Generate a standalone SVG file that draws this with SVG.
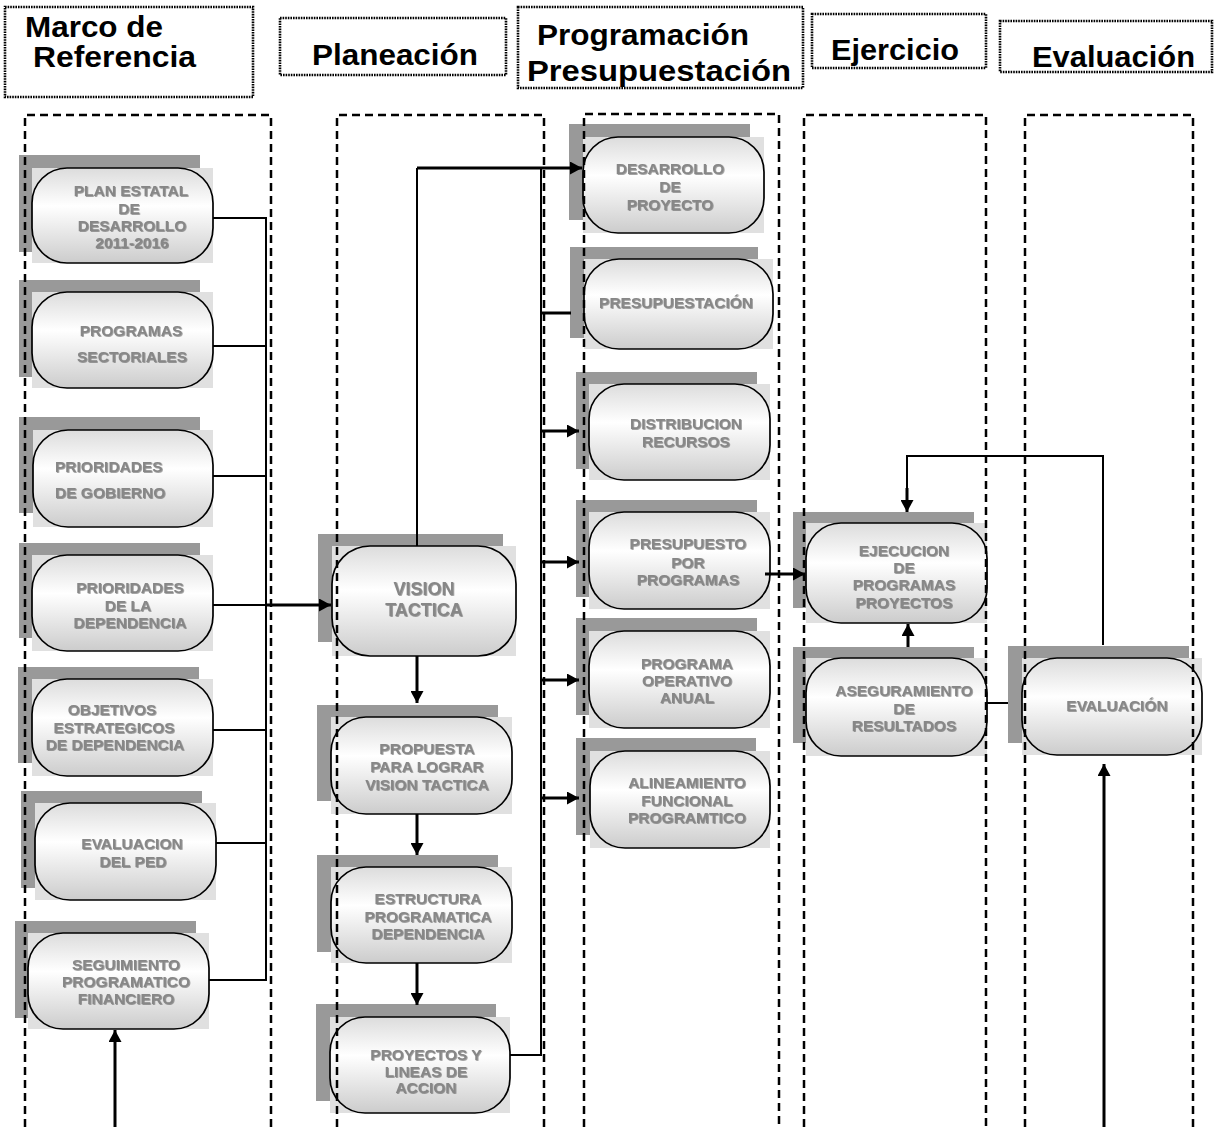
<svg xmlns="http://www.w3.org/2000/svg" width="1215" height="1127" viewBox="0 0 1215 1127">
<style>
.hdr{fill:none;stroke:#000;stroke-width:2.6;stroke-dasharray:1.6 1}
.col{fill:none;stroke:#000;stroke-width:2.5;stroke-dasharray:8 5}
.title{font-family:"Liberation Sans",Arial,sans-serif;font-weight:bold;font-size:29px;fill:#000}
.sh{fill:#999}
.bg{fill:#e0e0e0}
.pill{fill:url(#pg);stroke:#000;stroke-width:1.7}
.t{font-family:"Liberation Sans",Arial,sans-serif;font-weight:bold;font-size:15.5px;fill:#878787;text-anchor:middle;filter:url(#ts)}
.tl{text-anchor:start}
.big{font-size:18px}
.ln{fill:none;stroke:#000;stroke-width:2}
.th{fill:none;stroke:#000;stroke-width:3}
</style>
<defs>
<linearGradient id="pg" x1="0" y1="0" x2="0" y2="1">
<stop offset="0" stop-color="#dcdcdc"/>
<stop offset="0.4" stop-color="#ffffff"/>
<stop offset="1" stop-color="#cccccc"/>
</linearGradient>
<filter id="ts" x="-10%" y="-30%" width="120%" height="160%">
<feDropShadow dx="0.8" dy="0.8" stdDeviation="0.6" flood-color="#333" flood-opacity="0.55"/>
</filter>
<marker id="ah" markerUnits="userSpaceOnUse" markerWidth="13" markerHeight="13" refX="12" refY="6.5" orient="auto">
<path d="M0,0 L12,6.5 L0,13 z" fill="#000"/>
</marker>
</defs>
<rect width="1215" height="1127" fill="#fff"/>

<g id="headers">
<g id="h-marco"><rect class="hdr" x="5" y="7" width="248" height="90"/><text class="title" x="25" y="37" textLength="138" lengthAdjust="spacingAndGlyphs">Marco de</text><text class="title" x="33" y="67" textLength="163" lengthAdjust="spacingAndGlyphs">Referencia</text></g>
<g id="h-plan"><rect class="hdr" x="280" y="18" width="226" height="57"/><text class="title" x="312" y="65" textLength="166" lengthAdjust="spacingAndGlyphs">Planeación</text></g>
<g id="h-prog"><rect class="hdr" x="518" y="7" width="285" height="81"/><text class="title" x="537" y="45" textLength="212" lengthAdjust="spacingAndGlyphs">Programación</text><text class="title" x="527" y="81" textLength="264" lengthAdjust="spacingAndGlyphs">Presupuestación</text></g>
<g id="h-ejer"><rect class="hdr" x="812" y="14" width="174" height="54"/><text class="title" x="831" y="60" textLength="128" lengthAdjust="spacingAndGlyphs">Ejercicio</text></g>
<g id="h-eval"><rect class="hdr" x="1000" y="21" width="212" height="51"/><text class="title" x="1032" y="67" textLength="163" lengthAdjust="spacingAndGlyphs">Evaluación</text></g>
</g>

<g id="n-plan"><rect class="sh" x="19" y="155" width="181" height="97"/><rect class="bg" x="32" y="168" width="181" height="95"/><rect class="pill" x="32" y="168" width="181" height="95" rx="35"/><text class="t" x="131" y="196">PLAN ESTATAL</text><text class="t" x="129" y="214">DE</text><text class="t" x="132" y="231">DESARROLLO</text><text class="t" x="132" y="248">2011-2016</text></g>
<g id="n-sect"><rect class="sh" x="19" y="280" width="181" height="97"/><rect class="bg" x="32" y="292" width="181" height="96"/><rect class="pill" x="32" y="292" width="181" height="96" rx="35"/><text class="t" x="131" y="336">PROGRAMAS</text><text class="t" x="132" y="362">SECTORIALES</text></g>
<g id="n-prgob"><rect class="sh" x="19" y="417" width="181" height="96"/><rect class="bg" x="33" y="430" width="180" height="97"/><rect class="pill" x="33" y="430" width="180" height="97" rx="35"/><text class="t tl" x="55" y="472">PRIORIDADES</text><text class="t tl" x="55" y="498">DE GOBIERNO</text></g>
<g id="n-prdep"><rect class="sh" x="19" y="543" width="181" height="95"/><rect class="bg" x="32" y="555" width="181" height="96"/><rect class="pill" x="32" y="555" width="181" height="96" rx="35"/><text class="t" x="130" y="593">PRIORIDADES</text><text class="t" x="128" y="611">DE LA</text><text class="t" x="130" y="628">DEPENDENCIA</text></g>
<g id="n-obj"><rect class="sh" x="18" y="667" width="181" height="96"/><rect class="bg" x="32" y="679" width="181" height="97"/><rect class="pill" x="32" y="679" width="181" height="97" rx="35"/><text class="t" x="112" y="715">OBJETIVOS</text><text class="t" x="114" y="733">ESTRATEGICOS</text><text class="t" x="115" y="750">DE DEPENDENCIA</text></g>
<g id="n-evped"><rect class="sh" x="21" y="791" width="181" height="97"/><rect class="bg" x="35" y="803" width="181" height="97"/><rect class="pill" x="35" y="803" width="181" height="97" rx="35"/><text class="t" x="132" y="849">EVALUACION</text><text class="t" x="133" y="867">DEL PED</text></g>
<g id="n-seg"><rect class="sh" x="15" y="921" width="181" height="97"/><rect class="bg" x="28" y="933" width="181" height="96"/><rect class="pill" x="28" y="933" width="181" height="96" rx="35"/><text class="t" x="126" y="970">SEGUIMIENTO</text><text class="t" x="126" y="987">PROGRAMATICO</text><text class="t" x="126" y="1004">FINANCIERO</text></g>

<g id="n-vision"><rect class="sh" x="318" y="534" width="185" height="108"/><rect class="bg" x="332" y="546" width="184" height="110"/><rect class="pill" x="332" y="546" width="184" height="110" rx="38"/><text class="t big" x="424" y="595">VISION</text><text class="t big" x="424" y="616">TACTICA</text></g>
<g id="n-prop"><rect class="sh" x="317" y="705" width="181" height="96"/><rect class="bg" x="331" y="717" width="181" height="97"/><rect class="pill" x="331" y="717" width="181" height="97" rx="35"/><text class="t" x="427" y="754">PROPUESTA</text><text class="t" x="427" y="772">PARA LOGRAR</text><text class="t" x="427" y="790">VISION TACTICA</text></g>
<g id="n-estr"><rect class="sh" x="317" y="855" width="181" height="97"/><rect class="bg" x="331" y="867" width="181" height="96"/><rect class="pill" x="331" y="867" width="181" height="96" rx="35"/><text class="t" x="428" y="904">ESTRUCTURA</text><text class="t" x="428" y="922">PROGRAMATICA</text><text class="t" x="428" y="939">DEPENDENCIA</text></g>
<g id="n-proy"><rect class="sh" x="316" y="1004" width="180" height="97"/><rect class="bg" x="330" y="1017" width="180" height="96"/><rect class="pill" x="330" y="1017" width="180" height="96" rx="35"/><text class="t" x="426" y="1060">PROYECTOS Y</text><text class="t" x="426" y="1077">LINEAS DE</text><text class="t" x="426" y="1093">ACCION</text></g>

<g id="n-desa"><rect class="sh" x="569" y="124" width="181" height="96"/><rect class="bg" x="583" y="137" width="181" height="96"/><rect class="pill" x="583" y="137" width="181" height="96" rx="35"/><text class="t" x="670" y="174">DESARROLLO</text><text class="t" x="670" y="192">DE</text><text class="t" x="670" y="210">PROYECTO</text></g>
<g id="n-presup"><rect class="sh" x="570" y="247" width="188" height="91"/><rect class="bg" x="584" y="259" width="189" height="90"/><rect class="pill" x="584" y="259" width="189" height="90" rx="35"/><text class="t" x="676" y="308">PRESUPUESTACIÓN</text></g>
<g id="n-dist"><rect class="sh" x="576" y="372" width="181" height="97"/><rect class="bg" x="589" y="384" width="181" height="96"/><rect class="pill" x="589" y="384" width="181" height="96" rx="35"/><text class="t" x="686" y="429">DISTRIBUCION</text><text class="t" x="686" y="447">RECURSOS</text></g>
<g id="n-ppp"><rect class="sh" x="576" y="500" width="181" height="97"/><rect class="bg" x="589" y="512" width="181" height="97"/><rect class="pill" x="589" y="512" width="181" height="97" rx="35"/><text class="t" x="688" y="549">PRESUPUESTO</text><text class="t" x="688" y="568">POR</text><text class="t" x="688" y="585">PROGRAMAS</text></g>
<g id="n-poa"><rect class="sh" x="576" y="618" width="181" height="97"/><rect class="bg" x="589" y="631" width="181" height="97"/><rect class="pill" x="589" y="631" width="181" height="97" rx="35"/><text class="t" x="687" y="669">PROGRAMA</text><text class="t" x="687" y="686">OPERATIVO</text><text class="t" x="687" y="703">ANUAL</text></g>
<g id="n-alin"><rect class="sh" x="576" y="738" width="180" height="97"/><rect class="bg" x="590" y="751" width="180" height="97"/><rect class="pill" x="590" y="751" width="180" height="97" rx="35"/><text class="t" x="687" y="788">ALINEAMIENTO</text><text class="t" x="687" y="806">FUNCIONAL</text><text class="t" x="687" y="823">PROGRAMTICO</text></g>

<g id="n-ejec"><rect class="sh" x="793" y="512" width="181" height="96"/><rect class="bg" x="806" y="523" width="181" height="100"/><rect class="pill" x="806" y="523" width="181" height="100" rx="35"/><text class="t" x="904" y="556">EJECUCION</text><text class="t" x="904" y="573">DE</text><text class="t" x="904" y="590">PROGRAMAS</text><text class="t" x="904" y="608">PROYECTOS</text></g>
<g id="n-aseg"><rect class="sh" x="793" y="647" width="181" height="96"/><rect class="bg" x="806" y="658" width="181" height="98"/><rect class="pill" x="806" y="658" width="181" height="98" rx="35"/><text class="t" x="904" y="696">ASEGURAMIENTO</text><text class="t" x="904" y="714">DE</text><text class="t" x="904" y="731">RESULTADOS</text></g>

<g id="n-eval"><rect class="sh" x="1008" y="646" width="181" height="97"/><rect class="bg" x="1022" y="658" width="180" height="97"/><rect class="pill" x="1022" y="658" width="180" height="97" rx="35"/><text class="t" x="1117" y="711">EVALUACIÓN</text></g>

<g id="columns">
<path class="col" d="M25,1127 V115 H271 V1127"/>
<path class="col" d="M337,1127 V115 H544 V1127"/>
<path class="col" d="M584,1127 V114 H779 V1127"/>
<path class="col" d="M804,1127 V115 H986 V1127"/>
<path class="col" d="M1025,1127 V115 H1193 V1127"/>
</g>

<g id="connectors">
<path class="ln" d="M213,218 H266 M213,346 H266 M213,476 H266 M213,605 H266 M213,730 H266 M216,843 H266 M209,980 H266 M266,217 V981"/>
<path class="th" d="M266,605 H331" marker-end="url(#ah)"/>
<path class="th" d="M115,1127 V1030" marker-end="url(#ah)"/>
<path class="ln" d="M417,546 V168"/>
<path class="th" d="M417,168 H582" marker-end="url(#ah)"/>
<path class="ln" d="M510,1055 H541 V168"/>
<path class="th" d="M541,313 H571"/>
<path class="th" d="M541,431 H579" marker-end="url(#ah)"/>
<path class="th" d="M541,562 H579" marker-end="url(#ah)"/>
<path class="th" d="M541,680 H579" marker-end="url(#ah)"/>
<path class="th" d="M541,798 H579" marker-end="url(#ah)"/>
<path class="th" d="M417,656 V703" marker-end="url(#ah)"/>
<path class="th" d="M417,814 V855" marker-end="url(#ah)"/>
<path class="th" d="M417,963 V1005" marker-end="url(#ah)"/>
<path class="th" d="M765,574 H805" marker-end="url(#ah)"/>
<path class="th" d="M908,647 V624" marker-end="url(#ah)"/>
<path class="ln" d="M987,703 H1008"/>
<path class="ln" d="M1103,645 V456 H907 V490"/>
<path class="th" d="M907,488 V512" marker-end="url(#ah)"/>
<path class="th" d="M1104,1127 V764" marker-end="url(#ah)"/>
</g>
</svg>
